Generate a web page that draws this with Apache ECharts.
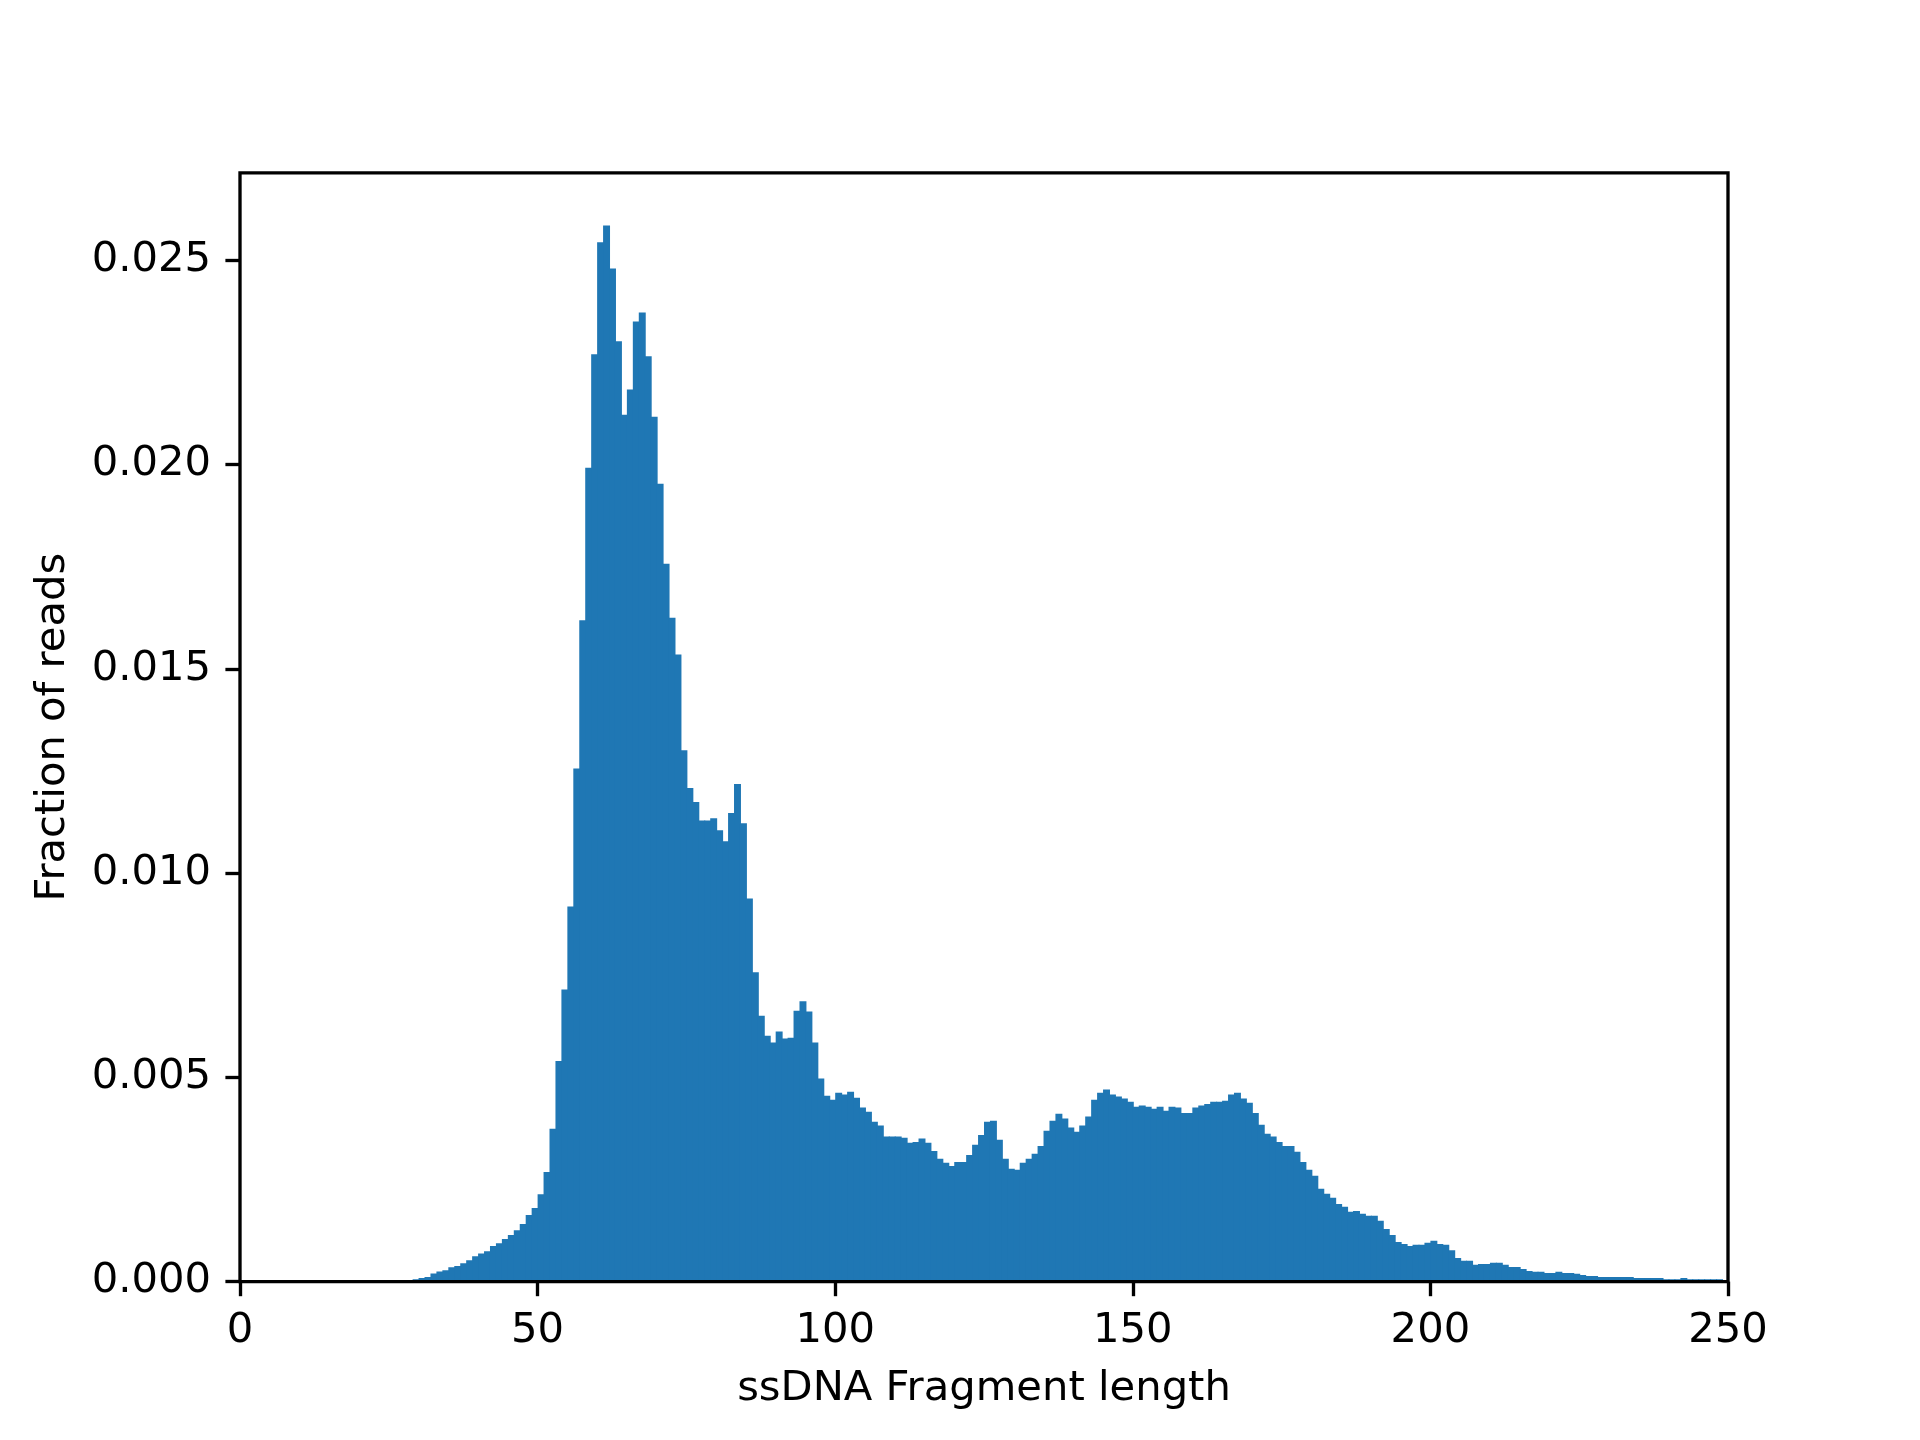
<!DOCTYPE html>
<html>
<head>
<meta charset="utf-8">
<script src="https://cdn.jsdelivr.net/npm/echarts@6/dist/echarts.min.js"></script>
<style>
html,body{margin:0;padding:0;background:#fff;}
#chart{width:1920px;height:1440px;}
</style>
</head>
<body>
<div id="chart"></div>
<script>
// Histogram: bins of width 1 starting at 0 (fragment length), fraction of reads per bin
const binStart = 0;
const binWidth = 1;
const fraction = [
  0,0,0,0,0,0,0,0,0,0,
  0,0,0,0,0,0,0,0,0,0,
  0,0,0,0,0,0,0,0,0.00001,0.00006,
  0.00009,0.00011,0.0002,0.00025,0.00028,0.00035,0.00038,0.00045,0.00052,0.00062,
  0.00069,0.00074,0.00087,0.00094,0.00104,0.00114,0.00126,0.00141,0.00163,0.0018,
  0.00214,0.00268,0.00374,0.0054,0.00715,0.00918,0.01256,0.01619,0.01992,0.0227,
  0.02544,0.02585,0.0248,0.02302,0.02122,0.02184,0.0235,0.02372,0.02265,0.02117,
  0.01953,0.01757,0.01625,0.01535,0.01301,0.01208,0.01174,0.01129,0.01129,0.01134,
  0.01105,0.01078,0.01147,0.01218,0.01122,0.00938,0.00757,0.00651,0.00602,0.00585,
  0.00612,0.00595,0.00597,0.00663,0.00686,0.00661,0.00585,0.00497,0.00455,0.00445,
  0.00462,0.00458,0.00465,0.0045,0.00426,0.00416,0.00391,0.00382,0.00355,0.00355,
  0.00355,0.00352,0.0034,0.00342,0.0035,0.0034,0.0032,0.00301,0.00291,0.00283,
  0.00293,0.00293,0.0031,0.00335,0.00359,0.00391,0.00394,0.00347,0.00301,0.00276,
  0.00274,0.00291,0.00301,0.00313,0.00332,0.00369,0.00394,0.00411,0.00399,0.00377,
  0.00367,0.00382,0.00404,0.00445,0.00462,0.0047,0.00458,0.00453,0.00448,0.0044,
  0.00428,0.00431,0.00428,0.00423,0.00428,0.00418,0.00428,0.00426,0.00413,0.00413,
  0.00426,0.00431,0.00435,0.0044,0.0044,0.00443,0.00458,0.00462,0.00448,0.00438,
  0.00413,0.00384,0.00362,0.00355,0.00342,0.00332,0.00332,0.00318,0.00293,0.00274,
  0.00259,0.00227,0.00215,0.00205,0.0019,0.00183,0.00171,0.00173,0.00166,0.00161,
  0.00161,0.00149,0.00129,0.00114,0.00097,0.00092,0.00087,0.0009,0.0009,0.00095,
  0.001,0.00092,0.0009,0.00077,0.00058,0.00051,0.00051,0.00041,0.00043,0.00043,
  0.00046,0.00046,0.00041,0.00036,0.00036,0.00031,0.00026,0.00024,0.00024,0.00021,
  0.00021,0.00024,0.00021,0.00021,0.00019,0.00016,0.00014,0.00014,0.00011,0.00011,
  0.00011,0.00011,0.00011,0.00011,0.00009,0.00009,0.00009,0.00009,0.00009,0.00006,
  0.00006,0.00006,0.00009,0.00006,0.00006,0.00006,0.00006,0.00006,0.00006,0.00004
];
const xTicks = [0, 50, 100, 150, 200, 250];
const yTicks = [0, 0.005, 0.010, 0.015, 0.020, 0.025];
const xTitle = 'ssDNA Fragment length';
const yTitle = 'Fraction of reads';

const data = fraction.map((v, i) => [binStart + i * binWidth, binStart + (i + 1) * binWidth, v]);
const yMax = Math.max(...fraction) * 1.05;

const FONT = 'DejaVu Sans';
const FS = 41.7;
const LW = 3.33;

const chart = echarts.init(document.getElementById('chart'), null, {renderer: 'canvas'});
chart.setOption({
  backgroundColor: '#ffffff',
  animation: false,
  grid: {
    left: 240, right: 192, top: 172.8, bottom: 158.4,
    show: true, borderColor: '#000', borderWidth: LW, backgroundColor: 'transparent', z: 10
  },
  xAxis: {
    type: 'value', min: 0, max: 250, interval: 50,
    axisLine: {show: false},
    axisTick: {show: true, length: 14.6, lineStyle: {color: '#000', width: LW}, customValues: xTicks},
    axisLabel: {show: true, margin: 29, color: '#000', fontFamily: FONT, fontSize: FS, customValues: xTicks,
      formatter: v => String(v)},
    splitLine: {show: false},
    name: xTitle, nameLocation: 'middle', nameGap: 87,
    nameTextStyle: {color: '#000', fontFamily: FONT, fontSize: FS}
  },
  yAxis: {
    type: 'value', min: 0, max: yMax, interval: 0.005,
    axisLine: {show: false},
    axisTick: {show: true, length: 14.6, lineStyle: {color: '#000', width: LW}, customValues: yTicks},
    axisLabel: {show: true, margin: 29, color: '#000', fontFamily: FONT, fontSize: FS, customValues: yTicks,
      formatter: v => v.toFixed(3)},
    splitLine: {show: false},
    name: yTitle, nameLocation: 'middle', nameGap: 166, nameRotate: 90,
    nameTextStyle: {color: '#000', fontFamily: FONT, fontSize: FS}
  },
  series: [{
    type: 'custom',
    data: data,
    encode: {x: [0, 1], y: 2},
    clip: true,
    renderItem: function (params, api) {
      const p0 = api.coord([api.value(0), api.value(2)]);
      const p1 = api.coord([api.value(1), 0]);
      return {
        type: 'rect',
        shape: {x: p0[0], y: p0[1], width: p1[0] - p0[0] + 1, height: p1[1] - p0[1]},
        style: {fill: '#1f77b4'}
      };
    }
  }]
});
</script>
</body>
</html>
